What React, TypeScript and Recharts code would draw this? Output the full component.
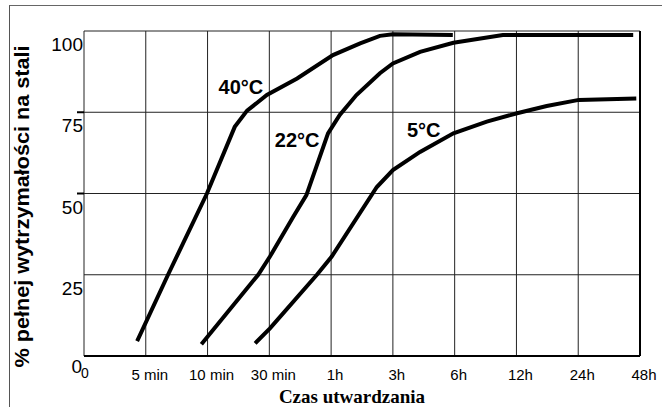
import { LineChart, Line, XAxis, YAxis, CartesianGrid, ReferenceLine, ReferenceDot } from "recharts";

// x = position on the (evenly spaced) time scale, 0..9 ; v = % of full strength
const X_LABELS = ["0", "5 min", "10 min", "30 min", "1h", "3h", "6h", "12h", "24h", "48h"];
const X_TICKS = [0, 1, 2, 3, 4, 5, 6, 7, 8, 9];
const Y_TICKS = [0, 25, 50, 75, 100];

const CURVE_40 = [
  { t: 0.86, v: 4.6 },
  { t: 1.36, v: 25 },
  { t: 1.99, v: 50 },
  { t: 2.44, v: 70.5 },
  { t: 2.64, v: 75.5 },
  { t: 2.96, v: 80.3 },
  { t: 3.45, v: 85.4 },
  { t: 4.03, v: 92.6 },
  { t: 4.47, v: 96.2 },
  { t: 4.79, v: 98.5 },
  { t: 5.0, v: 99 },
  { t: 5.97, v: 98.8 },
];

const CURVE_22 = [
  { t: 1.9, v: 3.6 },
  { t: 2.82, v: 25 },
  { t: 3.01, v: 30.6 },
  { t: 3.39, v: 42.9 },
  { t: 3.6, v: 49.5 },
  { t: 3.95, v: 68.5 },
  { t: 4.14, v: 74.2 },
  { t: 4.41, v: 80.3 },
  { t: 4.79, v: 87 },
  { t: 5.0, v: 90 },
  { t: 5.44, v: 93.6 },
  { t: 5.98, v: 96.4 },
  { t: 6.78, v: 98.8 },
  { t: 8.89, v: 98.8 },
];

const CURVE_5 = [
  { t: 2.77, v: 3.9 },
  { t: 3.01, v: 8.5 },
  { t: 3.77, v: 25 },
  { t: 4.01, v: 30.6 },
  { t: 4.74, v: 52 },
  { t: 5.0, v: 57.2 },
  { t: 5.44, v: 62.8 },
  { t: 5.98, v: 68.5 },
  { t: 6.52, v: 72.1 },
  { t: 7.01, v: 74.7 },
  { t: 7.49, v: 76.9 },
  { t: 8.01, v: 78.8 },
  { t: 8.94, v: 79.2 },
];

const CURVE_LABELS = [
  { text: "40°C", t: 2.54, v: 80.5 },
  { text: "22°C", t: 3.45, v: 64.3 },
  { text: "5°C", t: 5.5, v: 67.4 },
];

const SANS = "'Liberation Sans', Arial, sans-serif";
const SERIF = "'Liberation Serif', 'Times New Roman', serif";

function XTick({ x, y, payload }: any) {
  const i = payload.value as number;
  if (i === 0) {
    return (
      <text x={x + 1} y={y + 22} textAnchor="middle" fontSize={14} fontFamily={SANS} fill="#000">
        0
      </text>
    );
  }
  return (
    <text x={x + 4} y={y + 24} textAnchor="middle" fontSize={15} fontFamily={SANS} fill="#000">
      {X_LABELS[i]}
    </text>
  );
}

function YTick({ x, y, payload }: any) {
  const v = payload.value as number;
  const mark = v === 50 || v === 75;
  return (
    <g>
      {mark && <line x1={x - 7} x2={x} y1={y} y2={y} stroke="#000" strokeWidth={2} />}
      <text
        x={v === 0 ? x - 2 : x - 1}
        y={v === 0 ? y + 17 : y + 20}
        textAnchor="end"
        fontSize={19}
        fontFamily={SANS}
        fill="#000"
      >
        {v}
      </text>
    </g>
  );
}

function CurveLabel({ viewBox, text }: any) {
  const cx = viewBox.x + viewBox.width / 2;
  const cy = viewBox.y + viewBox.height / 2;
  return (
    <text x={cx} y={cy} textAnchor="middle" fontSize={20} fontWeight="bold" fontFamily={SANS} fill="#000">
      {text}
    </text>
  );
}

export default function App() {
  return (
    <div style={{ position: "fixed", left: 0, top: 0, width: 662, height: 407, background: "#fff", overflow: "hidden" }}>
      <div
        style={{
          position: "absolute",
          left: 9,
          top: 5,
          right: 0,
          bottom: 0,
          borderTop: "1px solid #666",
          borderLeft: "1px solid #555",
        }}
      />
      <div style={{ position: "absolute", left: 0, top: 0 }}>
        <LineChart width={662} height={407} margin={{ top: 31, right: 22, bottom: 0, left: 0 }}>
          <CartesianGrid stroke="#222" strokeWidth={1} />
          <XAxis
            type="number"
            dataKey="t"
            domain={[0, 9]}
            ticks={X_TICKS}
            interval={0}
            height={51}
            tickSize={0}
            tickMargin={0}
            tickLine={false}
            axisLine={{ stroke: "#000", strokeWidth: 2 }}
            tick={<XTick />}
            allowDataOverflow
            label={{
              content: ({ viewBox }: any) => (
                <text
                  x={viewBox.x + viewBox.width / 2 - 10}
                  y={viewBox.y + 47}
                  textAnchor="middle"
                  fontSize={19}
                  fontWeight="bold"
                  fontFamily={SERIF}
                  fill="#000"
                >
                  Czas utwardzania
                </text>
              ),
            }}
          />
          <YAxis
            type="number"
            dataKey="v"
            domain={[0, 100]}
            ticks={Y_TICKS}
            interval={0}
            width={84}
            tickSize={0}
            tickMargin={0}
            tickLine={false}
            axisLine={false}
            tick={<YTick />}
            label={{
              content: ({ viewBox }: any) => {
                const cy = viewBox.y + viewBox.height / 2 + 13;
                return (
                  <text
                    x={21}
                    y={cy}
                    transform={`rotate(-90 21 ${cy})`}
                    textAnchor="middle"
                    dominantBaseline="central"
                    fontSize={21}
                    fontWeight="bold"
                    fontFamily={SANS}
                    fill="#000"
                    textLength={322}
                    lengthAdjust="spacingAndGlyphs"
                  >
                    % pełnej wytrzymałości na stali
                  </text>
                );
              },
            }}
          />
          <ReferenceLine x={9} stroke="#000" strokeWidth={2} />
          <Line data={CURVE_40} dataKey="v" type="linear" stroke="#000" strokeWidth={4} dot={false} isAnimationActive={false} />
          <Line data={CURVE_22} dataKey="v" type="linear" stroke="#000" strokeWidth={4} dot={false} isAnimationActive={false} />
          <Line data={CURVE_5} dataKey="v" type="linear" stroke="#000" strokeWidth={4} dot={false} isAnimationActive={false} />
          {CURVE_LABELS.map((l) => (
            <ReferenceDot
              key={l.text}
              x={l.t}
              y={l.v}
              r={1}
              fill="none"
              stroke="none"
              label={<CurveLabel text={l.text} />}
            />
          ))}
        </LineChart>
      </div>
    </div>
  );
}
